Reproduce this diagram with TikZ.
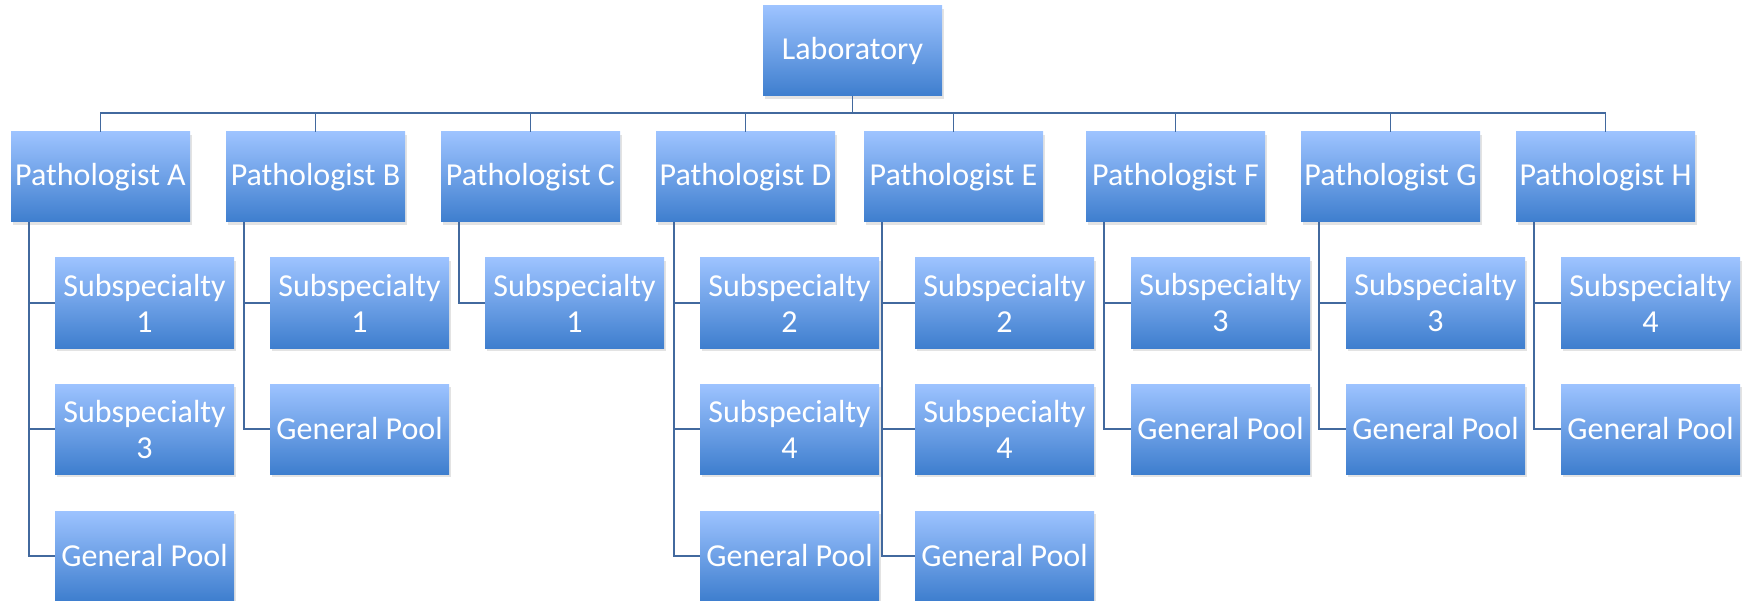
\documentclass[tikz,border=0pt]{standalone}
\usepackage{fontspec}
\setmainfont{Carlito}
\usetikzlibrary{shadows}
\definecolor{boxtop}{RGB}{157,195,255}
\definecolor{boxmid}{RGB}{118,162,232}
\definecolor{boxbot}{RGB}{62,126,206}
\definecolor{linkcol}{RGB}{66,105,158}
\tikzset{
  orgbox/.style={rectangle, minimum width=179pt, minimum height=90pt,
    inner sep=0pt, align=center, text=white,
    top color=boxtop, middle color=boxmid, bottom color=boxbot,
    font=\fontsize{32}{36}\selectfont,
    drop shadow={shadow xshift=2pt, shadow yshift=-3pt, opacity=0.18, fill=black!60}},
  link/.style={draw=linkcol, line width=1.6pt}
}
\begin{document}
\begin{tikzpicture}[x=1pt, y=-1pt]
\useasboundingbox (0,0) rectangle (1747,601);

% top level
\node[orgbox] (lab) at (852.5,51) {Laboratory};

% pathologists
\node[orgbox] (pA) at (100.5,177) {Pathologist A};
\node[orgbox] (pB) at (315.5,177) {Pathologist B};
\node[orgbox] (pC) at (530.5,177) {Pathologist C};
\node[orgbox] (pD) at (745.5,177) {Pathologist D};
\node[orgbox] (pE) at (953.5,177) {Pathologist E};
\node[orgbox] (pF) at (1175.5,177) {Pathologist F};
\node[orgbox] (pG) at (1390.5,177) {Pathologist G};
\node[orgbox] (pH) at (1605.5,177) {Pathologist H};

% subspecialty rows
\node[orgbox] (a1) at (144.5,303) {Subspecialty\\1};
\node[orgbox] (a2) at (144.5,429) {Subspecialty\\3};
\node[orgbox] (a3) at (144.5,556) {General Pool};

\node[orgbox] (b1) at (359.5,303) {Subspecialty\\1};
\node[orgbox] (b2) at (359.5,429) {General Pool};

\node[orgbox] (c1) at (574.5,303) {Subspecialty\\1};

\node[orgbox] (d1) at (789.5,303) {Subspecialty\\2};
\node[orgbox] (d2) at (789.5,429) {Subspecialty\\4};
\node[orgbox] (d3) at (789.5,556) {General Pool};

\node[orgbox] (e1) at (1004.5,303) {Subspecialty\\2};
\node[orgbox] (e2) at (1004.5,429) {Subspecialty\\4};
\node[orgbox] (e3) at (1004.5,556) {General Pool};

\node[orgbox] (f1) at (1220.5,303) {Subspecialty\\3};
\node[orgbox] (f2) at (1220.5,429) {General Pool};

\node[orgbox] (g1) at (1435.5,303) {Subspecialty\\3};
\node[orgbox] (g2) at (1435.5,429) {General Pool};

\node[orgbox] (h1) at (1650.5,303) {Subspecialty\\4};
\node[orgbox] (h2) at (1650.5,429) {General Pool};

% bus from the laboratory to every pathologist
\foreach \p in {pA,pB,pC,pD,pE,pF,pG,pH}
  \draw[link] (lab.south) -- ++(0,17) -| (\p.north);

% side rails to the subspecialties
\foreach \p/\c in {pA/a1,pA/a2,pA/a3,pB/b1,pB/b2,pC/c1,pD/d1,pD/d2,pD/d3,
                   pE/e1,pE/e2,pE/e3,pF/f1,pF/f2,pG/g1,pG/g2,pH/h1,pH/h2}
  \draw[link] ([xshift=18pt]\p.south west) |- (\c.west);
\end{tikzpicture}
\end{document}
